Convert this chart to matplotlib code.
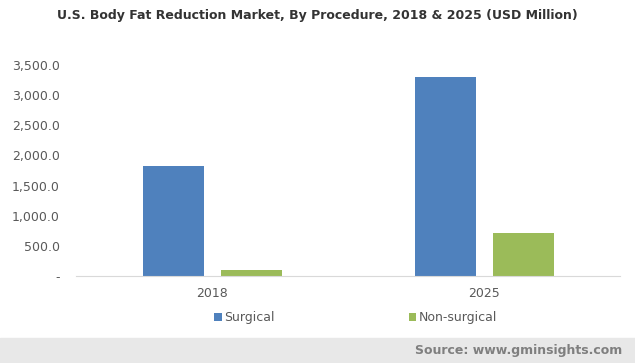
import matplotlib.pyplot as plt
import numpy as np

years = ['2018', '2025']
surgical = [1824, 3300]
non_surgical = [100, 713]
yticks = [0, 500, 1000, 1500, 2000, 2500, 3000, 3500]

fig = plt.figure(figsize=(6.35, 3.63), dpi=100)
ax = fig.add_axes([0.12, 0.2397, 0.857, 0.5813])

x = np.arange(len(years))
w = 0.224
ax.bar(x - 0.143, surgical, w, color='#4f81bd', label='Surgical')
ax.bar(x + 0.143, non_surgical, w, color='#9bbb59', label='Non-surgical')

ax.set_xlim(-0.5, 1.5)
ax.set_ylim(0, 3500)
ax.set_xticks(x)
ax.set_xticklabels(years)
ax.set_yticks(yticks)
ax.set_yticklabels(['-' if v == 0 else '{:,.1f}'.format(v) for v in yticks])
ax.tick_params(length=0, labelsize=9, colors='#595959')
ax.tick_params(axis='x', pad=8)
ax.tick_params(axis='y', pad=12)
for s in ['top', 'right', 'left']:
    ax.spines[s].set_visible(False)
ax.spines['bottom'].set_color('#d9d9d9')

fig.text(0.5, 0.956, 'U.S. Body Fat Reduction Market, By Procedure, 2018 & 2025 (USD Million)',
         ha='center', va='center', fontsize=9, fontweight='bold', color='#333333')

leg = fig.legend(loc='center', bbox_to_anchor=(0.56, 0.124), ncol=2, frameon=False,
                 fontsize=9, handlelength=0.6, handleheight=0.6, handletextpad=0.2,
                 columnspacing=10.7)
for t in leg.get_texts():
    t.set_color('#595959')

fig.patches.append(plt.Rectangle((0, 0), 1, 25 / 363, transform=fig.transFigure,
                                 color='#e8e8e8', zorder=0))
fig.text(0.98, 12.5 / 363, 'Source: www.gminsights.com', ha='right', va='center',
         fontsize=9, fontweight='bold', color='#7f7f7f')

fig.savefig('out.png', dpi=100)
